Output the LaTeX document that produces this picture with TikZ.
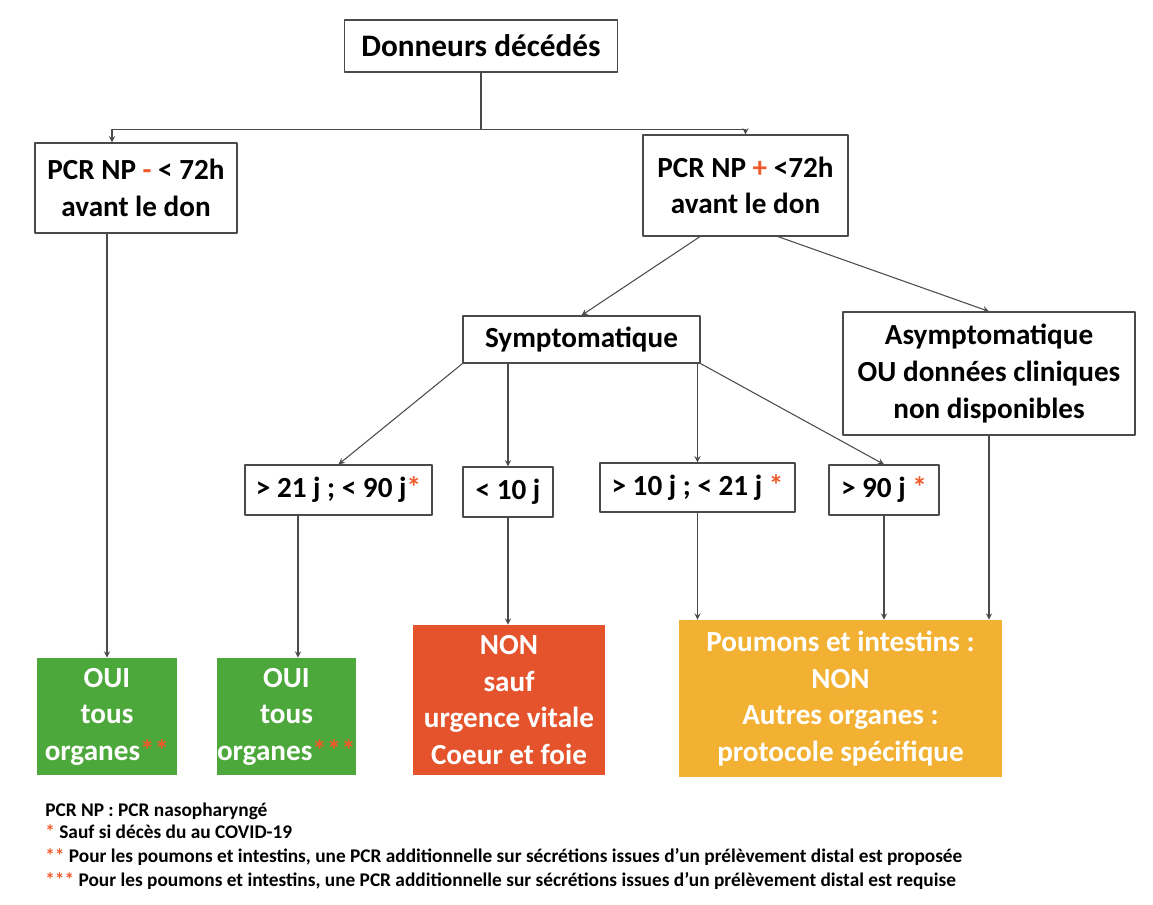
\documentclass[tikz,border=0pt]{standalone}
\usepackage{fontspec}
\setmainfont{Carlito}
\definecolor{vert}{HTML}{4DA83B}
\definecolor{rouge}{HTML}{E4532C}
\definecolor{jaune}{HTML}{F2B132}
\definecolor{ast}{HTML}{F05A2A}
\definecolor{trait}{HTML}{4A4A4A}
\newcommand{\rg}[1]{\textcolor{ast}{#1}}
\begin{document}
\begin{tikzpicture}[x=0.02cm,y=-0.02cm,>=stealth,line join=round,line cap=round,font=\bfseries\fontsize{16.6}{20.8}\selectfont,
boite/.style={draw=trait,line width=0.7pt,fill=white,align=center,inner sep=0pt},
issue/.style={align=center,inner sep=0pt,text=white},
fleche/.style={->,draw=trait,line width=0.6pt},
note/.style={anchor=west,inner sep=0pt,font=\bfseries\fontsize{11}{13}\selectfont}]
\useasboundingbox (0,0) rectangle (1153,905);
% niveau 1 et 2
\node[boite,minimum width=5.46cm,minimum height=1.04cm,font=\bfseries\fontsize{17.8}{21}\selectfont] (don) at (481,46) {Donneurs décédés};
\node[boite,minimum width=4.04cm,minimum height=1.8cm] (neg) at (136,188) {PCR NP \rg{-} < 72h\\avant le don};
\node[boite,minimum width=4.1cm,minimum height=2.02cm] (pos) at (745.5,185.5) {PCR NP \rg{+} <72h\\avant le don};
% niveau 3
\node[boite,minimum width=4.74cm,minimum height=0.94cm] (sympt) at (581.5,339.5) {Symptomatique};
\node[boite,minimum width=5.84cm,minimum height=2.46cm] (asympt) at (989,373.5) {Asymptomatique\\OU données cliniques\\non disponibles};
% delais
\node[boite,minimum width=3.74cm,minimum height=1cm] (d2190) at (338.5,490) {> 21 j ; < 90 j\rg{*}};
\node[boite,minimum width=1.8cm,minimum height=1cm] (d10) at (508,492) {< 10 j};
\node[boite,minimum width=3.9cm,minimum height=0.98cm] (d1021) at (697.5,487.5) {> 10 j ; < 21 j \rg{*}};
\node[boite,minimum width=2.2cm,minimum height=1cm] (d90) at (884,490) {> 90 j \rg{*}};
% decisions
\node[issue,fill=vert,minimum width=2.8cm,minimum height=2.34cm] (oui1) at (107,716.5) {OUI\\tous\\organes\rg{**}};
\node[issue,fill=vert,minimum width=2.74cm,minimum height=2.34cm] (oui2) at (286.5,716.5) {OUI\\tous\\organes\rg{***}};
\node[issue,fill=rouge,minimum width=3.84cm,minimum height=3cm] (non) at (509,700) {NON\\sauf\\urgence vitale\\Coeur et foie};
\node[issue,fill=jaune,minimum width=6.46cm,minimum height=3.14cm] (poum) at (840.5,698.5) {Poumons et intestins :\\NON\\Autres organes :\\protocole spécifique};
% fleches
\draw[fleche] (don.south) -- ++(0,57) -| ([xshift=-0.48cm]neg.north);
\draw[fleche] (don.south) -- ++(0,57) -| (pos.north);
\draw[fleche] ([xshift=-0.91cm]pos.south) -- (sympt.north);
\draw[fleche] ([xshift=0.65cm]pos.south) -- (asympt.north);
\draw[fleche] (sympt.south west) -- (d2190.north);
\draw[fleche] (sympt.south -| d10.north) -- (d10.north);
\draw[fleche] (sympt.south -| d1021.north) -- (d1021.north);
\draw[fleche] (sympt.south east) -- (d90.north);
\draw[fleche] (oui1.north |- neg.south) -- (oui1.north);
\draw[fleche] ([xshift=-0.81cm]d2190.south) -- ([xshift=-0.81cm]d2190.south |- oui2.north);
\draw[fleche] (d10.south) -- (d10.south |- non.north);
\draw[fleche] (d1021.south) -- (d1021.south |- poum.north);
\draw[fleche] (d90.south) -- (d90.south |- poum.north);
\draw[fleche] (asympt.south) -- (asympt.south |- poum.north);
% notes
\node[note] (n1) at (45,811) {PCR NP : PCR nasopharyngé};
\node[note] (n2) at (45,832) {\rg{*} Sauf si décès du au COVID-19};
\node[note] (n3) at (45,857) {\rg{**} Pour les poumons et intestins, une PCR additionnelle sur sécrétions issues d’un prélèvement distal est proposée};
\node[note] (n4) at (45,881) {\rg{***} Pour les poumons et intestins, une PCR additionnelle sur sécrétions issues d’un prélèvement distal est requise};
\end{tikzpicture}
\end{document}
